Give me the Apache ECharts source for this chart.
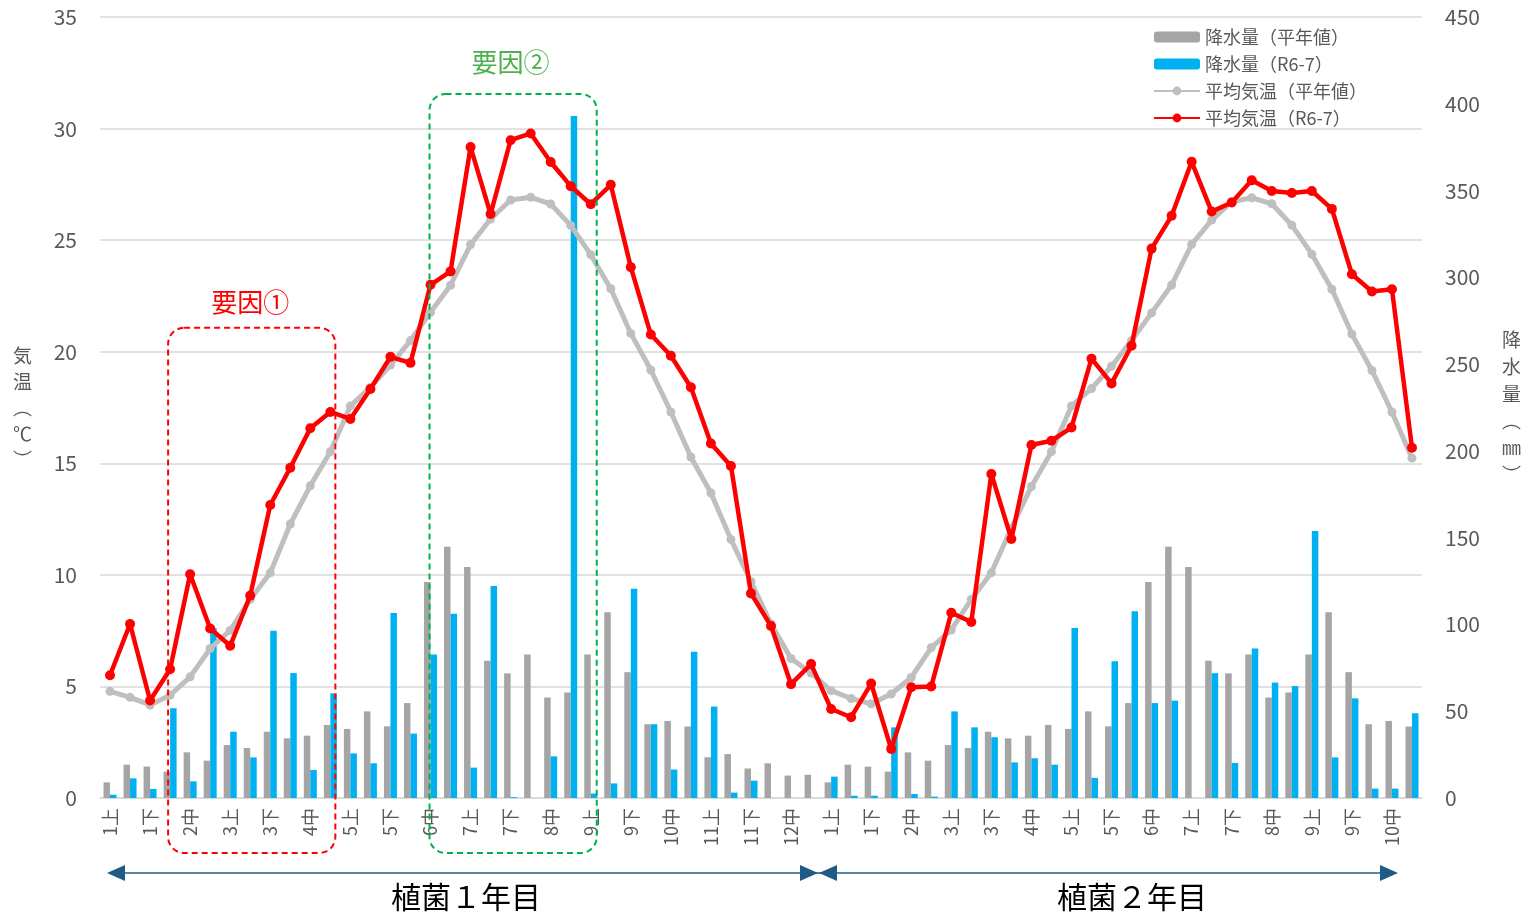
<!DOCTYPE html>
<html>
<head>
<meta charset="utf-8">
<script src="https://cdn.jsdelivr.net/npm/echarts@6/dist/echarts.min.js"></script>
<style>
html,body{margin:0;padding:0;background:#fff;}
#c{width:1530px;height:912px;}
</style>
</head>
<body>
<div id="c"></div>
<script>
// ---- Data ----
const categories = [
  '1上','1中','1下','2上','2中','2下','3上','3中','3下','4上','4中','4下',
  '5上','5中','5下','6上','6中','6下','7上','7中','7下','8上','8中','8下',
  '9上','9中','9下','10上','10中','10下','11上','11中','11下','12上','12中','12下',
  '1上','1中','1下','2上','2中','2下','3上','3中','3下','4上','4中','4下',
  '5上','5中','5下','6上','6中','6下','7上','7中','7下','8上','8中','8下',
  '9上','9中','9下','10上','10中','10下'
];
// 降水量（平年値） mm
const rainNormal = [
  9.0,19.2,18.1,15.2,26.3,21.5,30.5,28.8,38.2,34.4,35.9,42.1,
  39.8,49.9,41.3,54.7,124.4,144.8,133.1,79.1,71.8,82.7,57.9,60.8,
  82.7,107.0,72.5,42.5,44.4,41.2,23.5,25.3,17.0,20.0,12.9,13.4,
  9.0,19.2,18.1,15.2,26.3,21.5,30.5,28.8,38.2,34.4,35.9,42.1,
  39.8,49.9,41.3,54.7,124.4,144.8,133.1,79.1,71.8,82.7,57.9,60.8,
  82.7,107.0,72.5,42.5,44.4,41.2
];
// 降水量（R6-7） mm
const rainActual = [
  1.9,11.3,5.2,51.7,9.6,98.0,38.2,23.4,96.4,72.0,16.1,60.3,
  25.7,20.0,106.6,37.1,82.7,106.2,17.5,122.1,0.5,0,24.0,393.0,
  2.6,8.4,120.6,42.5,16.4,84.3,52.7,3.1,10.0,0,0,0,
  12.3,1.3,1.3,40.7,2.3,0.8,49.9,40.7,35.0,20.5,22.9,19.2,
  97.9,11.6,78.8,107.6,54.7,56.1,0,71.9,20.2,86.2,66.5,64.5,
  153.9,23.4,57.4,5.4,5.4,48.8
];
// 平均気温（平年値） ℃
const tempNormal = [
  4.78,4.51,4.17,4.61,5.43,6.70,7.51,8.90,10.09,12.28,13.99,15.52,
  17.57,18.4,19.4,20.5,21.77,22.98,24.8,25.95,26.8,26.92,26.62,25.66,
  24.35,22.82,20.82,19.18,17.3,15.28,13.67,11.59,9.7,7.8,6.25,5.6,
  4.81,4.46,4.22,4.66,5.4,6.74,7.53,8.9,10.09,12.1,13.96,15.52,
  17.57,18.35,19.35,20.5,21.74,22.99,24.81,25.9,26.72,26.9,26.63,25.67,
  24.37,22.8,20.79,19.16,17.3,15.23
];
// 平均気温（R6-7） ℃
const tempActual = [
  5.5,7.8,4.37,5.77,10.03,7.6,6.82,9.07,13.13,14.8,16.57,17.3,
  16.99,18.33,19.77,19.5,23.0,23.6,29.17,26.17,29.48,29.78,28.5,27.42,
  26.61,27.48,23.79,20.77,19.82,18.41,15.89,14.88,9.17,7.71,5.1,6.0,
  3.99,3.62,5.13,2.2,4.96,5.0,8.3,7.89,14.52,11.61,15.82,16.01,
  16.6,19.69,18.58,20.27,24.62,26.09,28.51,26.28,26.69,27.68,27.2,27.11,
  27.2,26.4,23.47,22.7,22.8,15.7
];
const seriesNames = ['降水量（平年値）','降水量（R6-7）','平均気温（平年値）','平均気温（R6-7）'];

const FONT = '"Noto Sans CJK JP", "Noto Sans", sans-serif';
const chart = echarts.init(document.getElementById('c'));
chart.setOption({
  animation: false,
  textStyle: { fontFamily: FONT },
  grid: { left: 100, right: 108, top: 17, bottom: 114, containLabel: false },
  legend: {
    orient: 'vertical', left: 1148, top: 23, itemWidth: 46, itemHeight: 11, itemGap: 9,
    textStyle: { fontSize: 18, color: '#595959', fontFamily: FONT },
    data: [
      { name: seriesNames[0] },
      { name: seriesNames[1] },
      { name: seriesNames[2] },
      { name: seriesNames[3] }
    ]
  },
  xAxis: {
    type: 'category', data: categories, boundaryGap: true,
    axisLine: { lineStyle: { color: '#d9d9d9', width: 1.5 } },
    axisTick: { show: false },
    axisLabel: { interval: 1, rotate: 90, fontSize: 18, color: '#595959', margin: 10, fontFamily: FONT }
  },
  yAxis: [
    {
      type: 'value', min: 0, max: 35, interval: 5,
      name: '気\n温\n︵\n℃\n︶', nameLocation: 'middle', nameRotate: 0, nameGap: 68,
      nameTextStyle: { fontSize: 19, color: '#595959', lineHeight: 26, fontFamily: FONT },
      axisLine: { show: false }, axisTick: { show: false },
      axisLabel: { fontSize: 21, color: '#595959', margin: 23, fontFamily: FONT },
      splitLine: { lineStyle: { color: '#d9d9d9', width: 1.5 } }
    },
    {
      type: 'value', min: 0, max: 450, interval: 50,
      name: '降\n水\n量\n︵\n㎜\n︶', nameLocation: 'middle', nameRotate: 0, nameGap: 80,
      nameTextStyle: { fontSize: 19, color: '#595959', lineHeight: 27, fontFamily: FONT },
      axisLine: { show: false }, axisTick: { show: false },
      axisLabel: { fontSize: 21, color: '#595959', margin: 23, fontFamily: FONT },
      splitLine: { show: false }
    }
  ],
  series: [
    { name: seriesNames[0], type: 'bar', yAxisIndex: 1, data: rainNormal, barWidth: 6.5, barGap: '0%',
      itemStyle: { color: '#a5a5a5' }, z: 1 },
    { name: seriesNames[1], type: 'bar', yAxisIndex: 1, data: rainActual, barWidth: 6.5, barGap: '0%',
      itemStyle: { color: '#00b0f0' }, z: 1 },
    { name: seriesNames[2], type: 'line', yAxisIndex: 0, data: tempNormal,
      symbol: 'circle', symbolSize: 9, lineStyle: { color: '#bfbfbf', width: 5 },
      itemStyle: { color: '#bfbfbf' }, z: 3 },
    { name: seriesNames[3], type: 'line', yAxisIndex: 0, data: tempActual,
      symbol: 'circle', symbolSize: 10, lineStyle: { color: '#ff0000', width: 4.5 },
      itemStyle: { color: '#ff0000' }, z: 4 }
  ]
});

// ---- Annotations (decorations) ----
function px(i, v) { return chart.convertToPixel({ xAxisIndex: 0, yAxisIndex: 0 }, [i, v]); }
const r1 = px(3, 21.07), r2 = px(11, 0);
const g1 = px(16, 31.55), g2 = px(24, 0);
const boxBottom = 853;
const arrowY = 873, arrowColor = '#1f5c85';
const xStart = 107, xMid = 818, xEnd = 1398;
chart.setOption({
  graphic: [
    { type: 'rect', shape: { x: r1[0] - 2, y: r1[1], width: (r2[0] + 5) - (r1[0] - 2), height: boxBottom - r1[1], r: 16 },
      style: { fill: 'none', stroke: '#ff0000', lineWidth: 2, lineDash: [6, 4] }, z: 10 },
    { type: 'text', x: (r1[0] + r2[0]) / 2, y: r1[1] - 26,
      style: { text: '要因①', fill: '#ff0000', font: '26px ' + FONT, textAlign: 'center', textVerticalAlign: 'middle' }, z: 10 },
    { type: 'rect', shape: { x: g1[0] - 1, y: g1[1], width: (g2[0] + 6) - (g1[0] - 1), height: boxBottom - g1[1], r: 16 },
      style: { fill: 'none', stroke: '#00b050', lineWidth: 2, lineDash: [6, 4] }, z: 10 },
    { type: 'text', x: (g1[0] + g2[0]) / 2, y: g1[1] - 32,
      style: { text: '要因②', fill: '#4cb04c', font: '26px ' + FONT, textAlign: 'center', textVerticalAlign: 'middle' }, z: 10 },
    // arrows
    { type: 'line', shape: { x1: xStart + 10, y1: arrowY, x2: xEnd - 10, y2: arrowY }, style: { stroke: arrowColor, lineWidth: 1.5 }, z: 10 },
    { type: 'polygon', shape: { points: [[xStart, arrowY], [xStart + 18, arrowY - 8], [xStart + 18, arrowY + 8]] }, style: { fill: arrowColor }, z: 10 },
    { type: 'polygon', shape: { points: [[xMid, arrowY], [xMid - 18, arrowY - 8], [xMid - 18, arrowY + 8]] }, style: { fill: arrowColor }, z: 10 },
    { type: 'polygon', shape: { points: [[xMid + 1, arrowY], [xMid + 19, arrowY - 8], [xMid + 19, arrowY + 8]] }, style: { fill: arrowColor }, z: 10 },
    { type: 'polygon', shape: { points: [[xEnd, arrowY], [xEnd - 18, arrowY - 8], [xEnd - 18, arrowY + 8]] }, style: { fill: arrowColor }, z: 10 },
    { type: 'text', x: 466, y: 897,
      style: { text: '植菌１年目', fill: '#000', font: '30px ' + FONT, textAlign: 'center', textVerticalAlign: 'middle' }, z: 10 },
    { type: 'text', x: 1132, y: 897,
      style: { text: '植菌２年目', fill: '#000', font: '30px ' + FONT, textAlign: 'center', textVerticalAlign: 'middle' }, z: 10 }
  ]
});
</script>
</body>
</html>
